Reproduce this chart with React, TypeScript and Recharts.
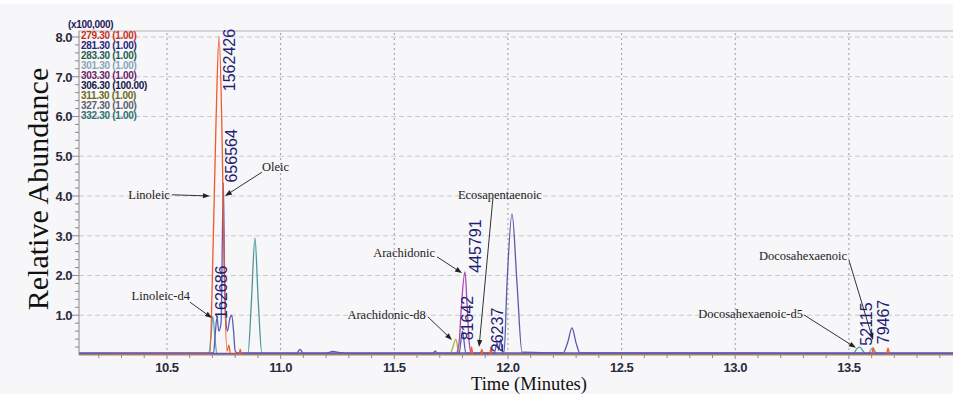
import { LineChart, Line, XAxis, YAxis, ReferenceLine, ReferenceDot, Legend } from 'recharts'

// chromatogram window (minutes) and abundance range (x100,000)
const T_MIN = 10.113
const T_MAX = 13.958
const Y_MAX = 8.15

// extracted ion traces: [time (min), abundance (x100,000)]
const MZ_279 = [
  [10.113, 0.01], [10.689, 0.02], [10.702, 2.5], [10.716, 5.9], [10.729, 8.0], [10.742, 5.6],
  [10.751, 2.4], [10.764, 0.1], [10.772, 0.25], [10.78, 0.02], [10.818, 0.02], [10.822, 0.15],
  [10.828, 0.01], [11.835, 0.01], [11.84, 0.2], [11.846, 0.01], [11.88, 0.01], [11.885, 0.15],
  [11.89, 0.01], [11.92, 0.01], [11.925, 0.2], [11.931, 0.01], [13.6, 0.01], [13.607, 0.18],
  [13.614, 0.01], [13.665, 0.01], [13.672, 0.17], [13.68, 0.01], [13.958, 0.01],
]
const MZ_281 = [
  [10.113, 0.05], [10.705, 0.05], [10.712, 0.5], [10.72, 0.95], [10.728, 0.6], [10.738, 0.8],
  [10.748, 4.33], [10.753, 2.2], [10.759, 0.9], [10.766, 0.6], [10.778, 0.95], [10.785, 1.0],
  [10.793, 0.6], [10.8, 0.1], [10.81, 0.05], [13.958, 0.05],
]
const MZ_283 = [
  [10.113, 0.02], [10.684, 0.02], [10.694, 0.5], [10.702, 0.98], [10.71, 0.5], [10.72, 0.02],
  [13.958, 0.02],
]
const MZ_301 = [
  [10.113, 0.02], [11.87, 0.02], [11.885, 0.1], [11.9, 0.02], [13.958, 0.02],
]
const MZ_303 = [
  [10.113, 0.02], [11.77, 0.02], [11.785, 0.3], [11.795, 1.2], [11.811, 2.09], [11.82, 1.3],
  [11.83, 0.3], [11.84, 0.02], [13.958, 0.02],
]
const MZ_306 = [
  [10.113, 0.04], [11.07, 0.04], [11.085, 0.14], [11.1, 0.04], [11.2, 0.04], [11.23, 0.09],
  [11.26, 0.06], [11.3, 0.04], [11.67, 0.04], [11.68, 0.1], [11.69, 0.04], [11.785, 0.04],
  [11.8, 0.6], [11.815, 0.04], [11.94, 0.05], [11.952, 0.3], [11.96, 0.12], [11.968, 0.4],
  [11.976, 0.1], [11.983, 0.07], [11.996, 1.8], [12.018, 3.55], [12.04, 1.8], [12.062, 0.07],
  [12.242, 0.05], [12.262, 0.3], [12.282, 0.68], [12.3, 0.3], [12.317, 0.05], [13.958, 0.04],
]
const MZ_311 = [
  [10.113, 0.02], [11.745, 0.02], [11.755, 0.15], [11.771, 0.4], [11.782, 0.1], [11.79, 0.02],
  [13.958, 0.02],
]
const MZ_327 = [
  [10.113, 0.02], [13.585, 0.02], [13.598, 0.15], [13.606, 0.18], [13.615, 0.1], [13.625, 0.02],
  [13.958, 0.02],
]
const MZ_332 = [
  [10.113, 0.02], [10.856, 0.02], [10.872, 1.4], [10.887, 2.94], [10.902, 1.3], [10.918, 0.02],
  [13.52, 0.03], [13.535, 0.16], [13.549, 0.2], [13.562, 0.1], [13.575, 0.02], [13.958, 0.02],
]

const LEGEND_LABELS = [
  '279.30 (1.00)', '281.30 (1.00)', '283.30 (1.00)', '301.30 (1.00)', '303.30 (1.00)',
  '306.30 (100.00)', '311.30 (1.00)', '327.30 (1.00)', '332.30 (1.00)',
]
const LEGEND_COLORS = [
  '#c8301e', '#26267a', '#245e52', '#8aa6b6', '#6c1c6c', '#16164a', '#6a6a1c', '#5e5e70', '#2e6e70',
]

// integrated peak areas, written beside each peak
const AREA_VALUES = ['1562426', '656564', '162686', '445791', '81642', '26237', '52115', '79467']
const AREA_POS = [
  [10.777, 7.42], [10.786, 5.01], [10.742, 1.58], [11.859, 2.74],
  [11.82, 0.93], [11.952, 0.63], [13.578, 0.78], [13.653, 0.83],
]

const COMPOUNDS = [
  'Linoleic', 'Oleic', 'Linoleic-d4', 'Arachidonic', 'Arachidonic-d8',
  'Ecosapentaenoic', 'Docosahexaenoic', 'Docosahexaenoic-d5',
]
// text anchor point, anchor side, arrow from -> to
const COMPOUND_TEXT = [
  [10.513, 3.92, 'end'], [10.918, 4.63, 'start'], [10.601, 1.38, 'end'], [11.679, 2.47, 'end'],
  [11.639, 0.91, 'end'], [11.78, 3.92, 'start'], [13.492, 2.39, 'end'], [13.298, 0.93, 'end'],
]
const COMPOUND_ARROWS = [
  [[10.522, 4.03], [10.689, 4.0]],
  [[10.918, 4.6], [10.755, 4.0]],
  [[10.601, 1.33], [10.698, 0.93]],
  [[11.688, 2.47], [11.798, 2.06]],
  [[11.648, 0.96], [11.754, 0.38]],
  [[11.934, 3.95], [11.873, 0.2]],
  [[13.5, 2.39], [13.606, 0.38]],
  [[13.302, 1.01], [13.531, 0.18]],
]

const X_MAJOR = [10.5, 11.0, 11.5, 12.0, 12.5, 13.0, 13.5]
const Y_MAJOR = [1, 2, 3, 4, 5, 6, 7, 8]

const X_TICKS: number[] = []
for (let i = 102; i <= 139; i++) X_TICKS.push(i / 10)
const Y_TICKS: number[] = []
for (let i = 1; i <= 40; i++) Y_TICKS.push(Math.round(i * 2) / 10)

const toPts = (arr: number[][]) => arr.map(([t, v]) => ({ t, v }))

const TRACES = [
  { data: MZ_332, color: '#4c9898' },
  { data: MZ_283, color: '#5eaeae' },
  { data: MZ_301, color: '#8cc0cc' },
  { data: MZ_327, color: '#98a8b0' },
  { data: MZ_311, color: '#b0b040' },
  { data: MZ_303, color: '#a848b0' },
  { data: MZ_306, color: '#5a5aaa' },
  { data: MZ_281, color: '#5c5cb4' },
  { data: MZ_279, color: '#f05a2a' },
]

const SANS = '"Liberation Sans", Arial, sans-serif'
const SERIF = '"Liberation Serif", "Times New Roman", serif'

function XTick({ x, y, payload }: any) {
  const v = payload.value
  const major = X_MAJOR.some((m) => Math.abs(m - v) < 1e-6)
  return (
    <g>
      <line x1={x} y1={y} x2={x} y2={y + (major ? 4 : 3)} stroke="#8c8c8c" />
      {major && (
        <text x={x} y={y + 17} textAnchor="middle" fontFamily={SANS} fontWeight="bold"
          fontSize={13} fill="#2a2a3c" letterSpacing={-0.5}>
          {v.toFixed(1)}
        </text>
      )}
    </g>
  )
}

function YTick({ x, y, payload }: any) {
  const v = payload.value
  const major = Math.abs(v - Math.round(v)) < 1e-6
  return (
    <g>
      <line x1={x - (major ? 7 : 4)} y1={y} x2={x} y2={y} stroke="#8c8c8c" />
      {major && (
        <text x={x - 7} y={y + 5} textAnchor="end" fontFamily={SANS} fontWeight="bold"
          fontSize={13} fill="#2a2a3c" letterSpacing={-0.5}>
          {v.toFixed(1)}
        </text>
      )}
    </g>
  )
}

function Arrow(props: any) {
  const { x1, y1, x2, y2 } = props
  const a = Math.atan2(y2 - y1, x2 - x1)
  const L = 7
  const W = 2.6
  const bx = x2 - L * Math.cos(a)
  const by = y2 - L * Math.sin(a)
  const px = -Math.sin(a) * W
  const py = Math.cos(a) * W
  return (
    <g>
      <line x1={x1} y1={y1} x2={bx} y2={by} stroke="#333" strokeWidth={1} />
      <polygon points={`${x2},${y2} ${bx + px},${by + py} ${bx - px},${by - py}`} fill="#222" />
    </g>
  )
}

function IonLegend() {
  return (
    <div style={{ fontFamily: SANS, fontWeight: 'bold', fontSize: 10, lineHeight: '10px', letterSpacing: -0.3 }}>
      {LEGEND_LABELS.map((s, i) => (
        <div key={s} style={{ color: LEGEND_COLORS[i] }}>{s}</div>
      ))}
    </div>
  )
}

export default function App() {
  return (
    <div style={{ position: 'absolute', left: 0, top: 0, width: 953, height: 394, background: '#f7f6f8' }}>
      <div style={{ position: 'absolute', left: 0, top: 0, width: 953, height: 4, background: '#ffffff' }} />
      <div style={{
        position: 'absolute', left: 68, top: 19, fontFamily: SANS, fontWeight: 'bold',
        fontSize: 10, color: '#1c1c5a', letterSpacing: -0.3,
      }}>
        (x100,000)
      </div>
      <LineChart width={953} height={394} margin={{ top: 31, right: 0, bottom: 0, left: 0 }}>
        <XAxis
          dataKey="t" type="number" domain={[T_MIN, T_MAX]} allowDataOverflow
          ticks={X_TICKS} interval={0} tick={<XTick />} tickSize={0} tickMargin={0}
          tickLine={false} axisLine={{ stroke: '#8c8c8c' }} height={39}
          label={{
            content: ({ viewBox }: any) => (
              <text x={viewBox.x + 450} y={viewBox.y + 35} textAnchor="middle"
                fontFamily={SERIF} fontSize={18.5} fill="#111">
                Time (Minutes)
              </text>
            ),
          }}
        />
        <YAxis
          type="number" domain={[0, Y_MAX]} allowDataOverflow
          ticks={Y_TICKS} interval={0} tick={<YTick />} tickSize={0} tickMargin={0}
          tickLine={false} axisLine={{ stroke: '#8c8c8c' }} width={79}
          label={{
            content: ({ viewBox }: any) => (
              <text x={viewBox.x + 48} y={viewBox.y + 158} textAnchor="middle"
                transform={`rotate(-90 ${viewBox.x + 48} ${viewBox.y + 158})`}
                fontFamily={SERIF} fontSize={30} fill="#111">
                Relative Abundance
              </text>
            ),
          }}
        />
        <ReferenceLine y={Y_MAX} stroke="#b4b4b4" ifOverflow="extendDomain" />
        {Y_MAJOR.map((v) => (
          <ReferenceLine key={'h' + v} y={v} stroke="#cbcbcb" strokeDasharray="5 3" />
        ))}
        {X_MAJOR.map((v) => (
          <ReferenceLine key={'v' + v} x={v} stroke="#9c9c9c" strokeDasharray="2 3" />
        ))}
        {TRACES.map((s, i) => (
          <Line
            key={i} data={toPts(s.data)} dataKey="v" type="monotone" stroke={s.color}
            strokeWidth={1.3} dot={false} activeDot={false} isAnimationActive={false}
          />
        ))}
        {COMPOUND_ARROWS.map((seg, i) => (
          <ReferenceLine
            key={'a' + i}
            segment={[{ x: seg[0][0], y: seg[0][1] }, { x: seg[1][0], y: seg[1][1] }]}
            shape={<Arrow />}
          />
        ))}
        {COMPOUNDS.map((name, i) => (
          <ReferenceDot
            key={'c' + i} x={COMPOUND_TEXT[i][0] as number} y={COMPOUND_TEXT[i][1] as number} r={0}
            shape={(p: any) => (
              <text x={p.cx} y={p.cy} textAnchor={COMPOUND_TEXT[i][2] as any}
                fontFamily={SERIF} fontSize={12.5} fill="#222">
                {name}
              </text>
            )}
          />
        ))}
        {AREA_VALUES.map((s, i) => (
          <ReferenceDot
            key={'n' + i} x={AREA_POS[i][0]} y={AREA_POS[i][1]} r={0}
            shape={(p: any) => (
              <text x={p.cx} y={p.cy} textAnchor="middle" dominantBaseline="central"
                transform={`rotate(-90 ${p.cx} ${p.cy})`}
                fontFamily={SANS} fontSize={16} fill="#1e1e72">
                {s}
              </text>
            )}
          />
        ))}
        <Legend
          layout="vertical" align="center" verticalAlign="middle"
          content={<IonLegend />}
          wrapperStyle={{ position: 'absolute', left: 81, top: 31, width: 100, height: 92 }}
        />
      </LineChart>
    </div>
  )
}
